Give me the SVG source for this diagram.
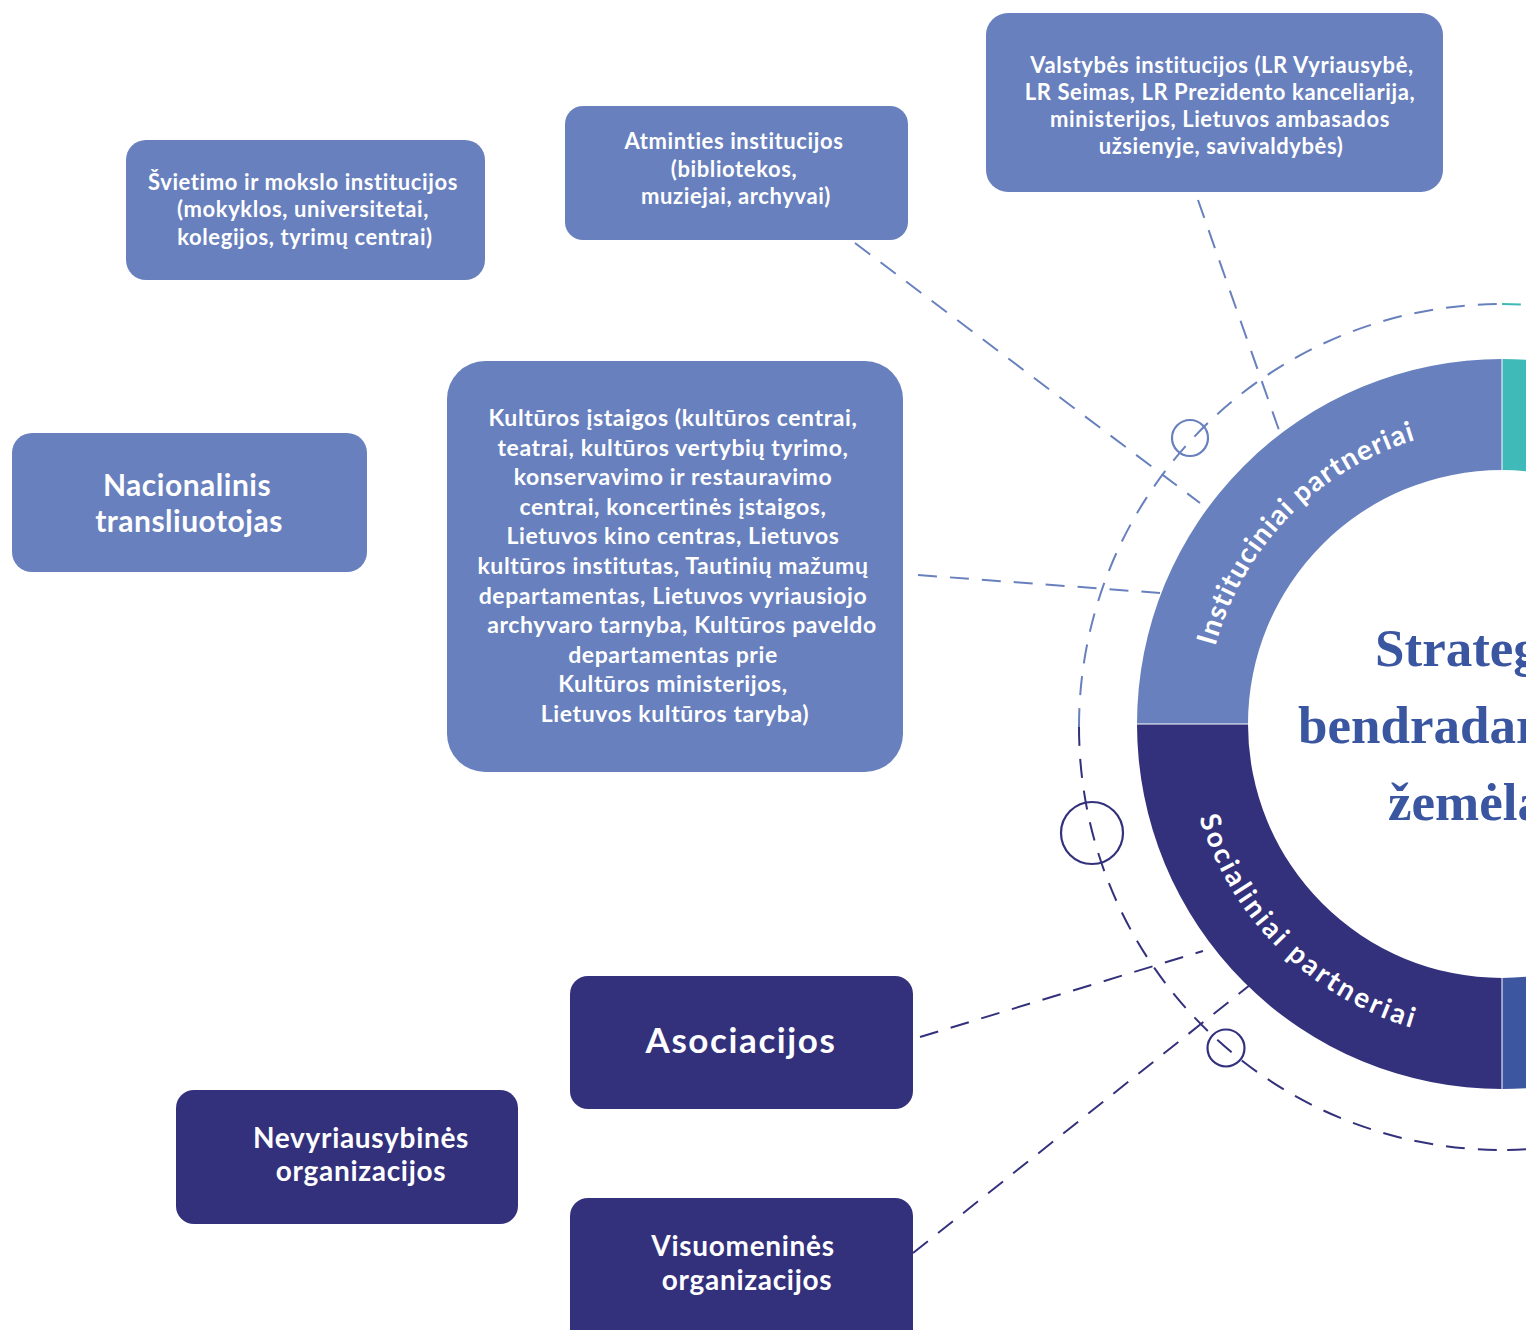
<svg xmlns="http://www.w3.org/2000/svg" width="1526" height="1330" viewBox="0 0 1526 1330">
<style>
.lb{fill:#6880bd}
.nv{fill:#33317c}
.t{font-family:Lato,"Open Sans","Liberation Sans",sans-serif;font-weight:bold;fill:#ffffff;text-anchor:middle}
.s22{font-size:22px;letter-spacing:0.6px}
.s23{font-size:23px;letter-spacing:0.6px}
.s28{font-size:28px;letter-spacing:0.7px}
.s30{font-size:30px;letter-spacing:0.5px}
.s35{font-size:35px;letter-spacing:1.6px}
.dl{fill:none;stroke:#6880bd;stroke-width:2;stroke-dasharray:19 13}
.dn{fill:none;stroke:#33317c;stroke-width:2;stroke-dasharray:19 13}
.title{font-family:"Liberation Serif","Times New Roman",serif;font-weight:bold;font-size:53px;fill:#3b56a0}
.ring{font-family:Lato,"Open Sans","Liberation Sans",sans-serif;font-weight:bold;font-size:28px;fill:#ffffff}
</style>
<defs>
<path id="arcTop" d="M1205,724 A297,297 0 0 1 1502,427"/>
<path id="arcBot" d="M1185,724 A317,317 0 0 0 1502,1041"/>
</defs>
<rect width="1526" height="1330" fill="#ffffff"/>

<g id="connectors">
<path class="dl" d="M1079,727 A423,423 0 0 1 1502,304"/>
<path class="dn" d="M1079,727 A423,423 0 0 0 1502,1150"/>
<path fill="none" stroke="#3fbab8" stroke-width="2" stroke-dasharray="19 13" d="M1502,304 A423,423 0 0 1 1925,727"/>
<path class="dn" d="M1925,727 A423,423 0 0 1 1502,1150"/>
<line class="dl" x1="855" y1="243" x2="1200" y2="503"/>
<line class="dl" x1="1198" y1="200" x2="1280" y2="433"/>
<line class="dl" x1="918" y1="575" x2="1160" y2="593"/>
<line class="dn" x1="920" y1="1037" x2="1203" y2="951"/>
<line class="dn" x1="913" y1="1253" x2="1250" y2="985"/>
<circle cx="1190" cy="438" r="18" fill="none" stroke="#6880bd" stroke-width="2.2"/>
<circle cx="1092" cy="833" r="31" fill="none" stroke="#33317c" stroke-width="2.2"/>
<circle cx="1226" cy="1048" r="18.5" fill="none" stroke="#33317c" stroke-width="2.2"/>
</g>

<g id="ring">
<path fill="#6880bd" d="M1137,724 A365,365 0 0 1 1502,359 L1502,470 A254,254 0 0 0 1248,724 Z"/>
<path fill="#33317c" d="M1137,724 A365,365 0 0 0 1502,1089 L1502,978 A254,254 0 0 1 1248,724 Z"/>
<path fill="#3fbab8" d="M1502,359 A365,365 0 0 1 1867,724 L1756,724 A254,254 0 0 0 1502,470 Z"/>
<path fill="#3d56a0" d="M1867,724 A365,365 0 0 1 1502,1089 L1502,978 A254,254 0 0 0 1756,724 Z"/>
<line x1="1137" y1="724" x2="1248" y2="724" stroke="#ffffff" stroke-width="1"/>
<line x1="1502" y1="359" x2="1502" y2="470" stroke="#ffffff" stroke-width="1"/>
<line x1="1502" y1="978" x2="1502" y2="1089" stroke="#ffffff" stroke-width="1"/>
<text class="ring" letter-spacing="1.2"><textPath href="#arcTop" startOffset="229" text-anchor="middle">Instituciniai partneriai</textPath></text>
<text class="ring" letter-spacing="2.8"><textPath href="#arcBot" startOffset="252" text-anchor="middle">Socialiniai partneriai</textPath></text>
</g>

<g id="title">
<text class="title" x="1375" y="666">Strateginio</text>
<text class="title" x="1298" y="743">bendradarbiavimo</text>
<text class="title" x="1388" y="820">žemėlapis</text>
</g>

<g id="valstybes">
<rect class="lb" x="986" y="13" width="457" height="179" rx="22"/>
<text class="t s22" x="1222" y="73">Valstybės institucijos (LR Vyriausybė,</text>
<text class="t s22" x="1220" y="100">LR Seimas,  LR Prezidento kanceliarija,</text>
<text class="t s22" x="1220" y="127">ministerijos, Lietuvos ambasados</text>
<text class="t s22" x="1221" y="154">užsienyje, savivaldybės)</text>
</g>

<g id="svietimo">
<rect class="lb" x="126" y="140" width="359" height="140" rx="20"/>
<text class="t s22" x="303" y="190">Švietimo ir mokslo institucijos</text>
<text class="t s22" x="303" y="217">(mokyklos, universitetai,</text>
<text class="t s22" x="305" y="245">kolegijos,  tyrimų centrai)</text>
</g>

<g id="atminties">
<rect class="lb" x="565" y="106" width="343" height="134" rx="18"/>
<text class="t s22" x="734" y="149">Atminties institucijos</text>
<text class="t s22" x="734" y="177">(bibliotekos,</text>
<text class="t s22" x="736" y="204">muziejai, archyvai)</text>
</g>

<g id="nacionalinis">
<rect class="lb" x="12" y="433" width="355" height="139" rx="20"/>
<text class="t s30" x="187" y="496">Nacionalinis</text>
<text class="t s30" x="189" y="532">transliuotojas</text>
</g>

<g id="kulturos">
<rect class="lb" x="447" y="361" width="456" height="411" rx="38"/>
<text class="t s23" x="673" y="426">Kultūros įstaigos (kultūros centrai,</text>
<text class="t s23" x="673" y="455.6">teatrai, kultūros vertybių tyrimo,</text>
<text class="t s23" x="673" y="485.2">konservavimo ir restauravimo</text>
<text class="t s23" x="673" y="514.8">centrai, koncertinės įstaigos,</text>
<text class="t s23" x="673" y="544.4">Lietuvos kino centras, Lietuvos</text>
<text class="t s23" x="673" y="574">kultūros institutas, Tautinių mažumų</text>
<text class="t s23" x="673" y="603.6">departamentas, Lietuvos vyriausiojo</text>
<text class="t s23" x="682" y="633.2">archyvaro tarnyba, Kultūros paveldo</text>
<text class="t s23" x="673" y="662.8">departamentas prie</text>
<text class="t s23" x="673" y="692.4">Kultūros ministerijos,</text>
<text class="t s23" x="675" y="722">Lietuvos kultūros taryba)</text>
</g>

<g id="asociacijos">
<rect class="nv" x="570" y="976" width="343" height="133" rx="18"/>
<text class="t s35" x="741" y="1053">Asociacijos</text>
</g>

<g id="nevyriausybines">
<rect class="nv" x="176" y="1090" width="342" height="134" rx="18"/>
<text class="t s28" x="361" y="1148">Nevyriausybinės</text>
<text class="t s28" x="361" y="1181">organizacijos</text>
</g>

<g id="visuomenines">
<rect class="nv" x="570" y="1198" width="343" height="160" rx="18"/>
<text class="t s28" x="743" y="1256">Visuomeninės</text>
<text class="t s28" x="747" y="1290">organizacijos</text>
</g>
</svg>
